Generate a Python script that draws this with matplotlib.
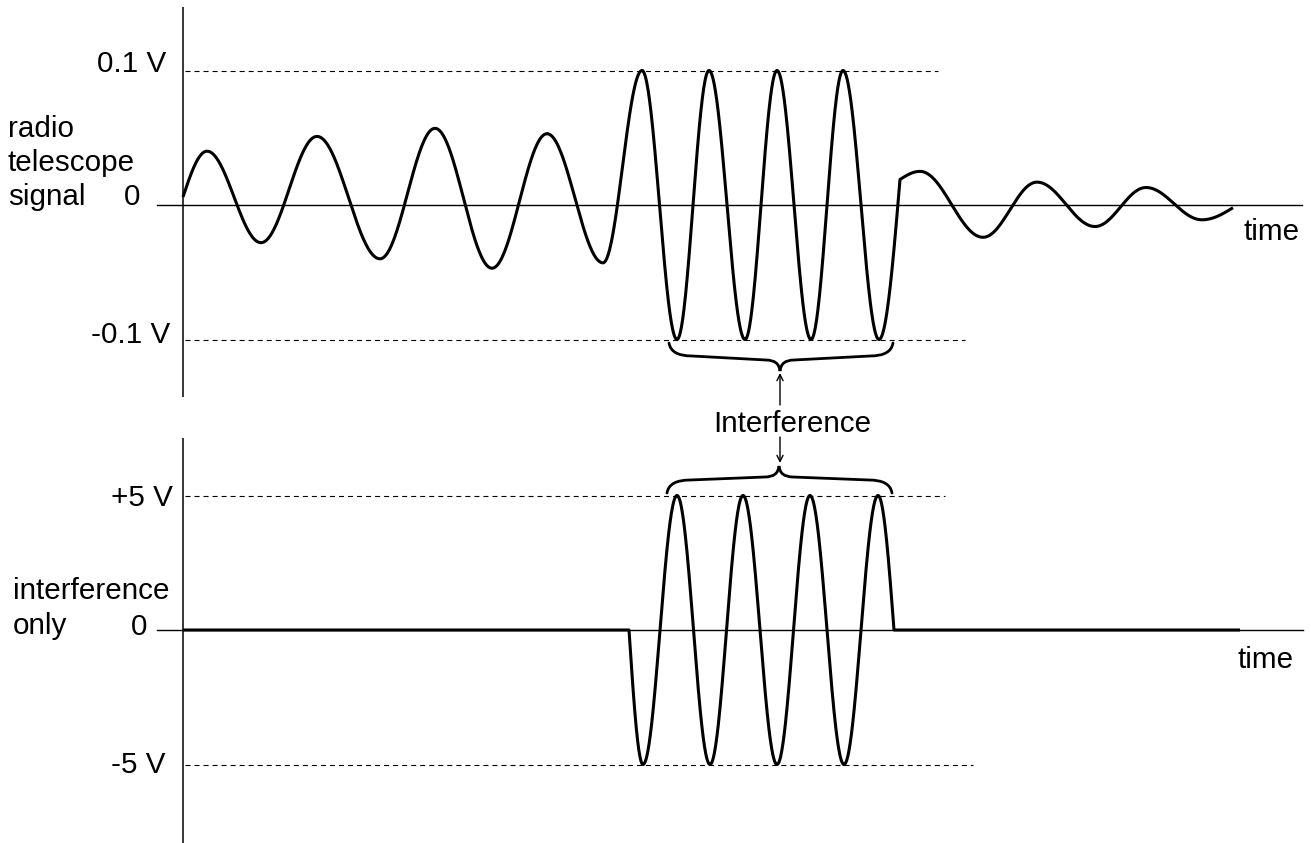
import numpy as np
import matplotlib
matplotlib.use("Agg")
import matplotlib.pyplot as plt
from matplotlib.path import Path
from matplotlib.patches import PathPatch

plt.rcParams["font.family"] = ["Liberation Sans", "DejaVu Sans"]
plt.rcParams["lines.scale_dashes"] = False

# radio telescope signal, turning points (time a.u., volts)
sig_t = [0.00, 0.24, 0.78, 1.34, 1.97, 2.52, 3.09, 3.64, 4.20,
         4.59, 4.94, 5.26, 5.62, 5.94, 6.28, 6.60, 6.96,
         7.17, 7.37, 8.00, 8.54, 9.12, 9.63, 10.19, 10.50]
sig_v = [0.006, 0.040, -0.028, 0.051, -0.040, 0.057, -0.047, 0.053, -0.043,
         0.100, -0.100, 0.100, -0.100, 0.100, -0.100, 0.100, -0.100,
         0.019, 0.025, -0.024, 0.017, -0.016, 0.013, -0.011, -0.002]
sig_mid = [0, 17, 24]      # points that are not peaks or troughs

# interference only
itf_t = [0.00, 4.46, 4.60, 4.94, 5.27, 5.60, 5.94, 6.27, 6.61, 6.95, 7.11, 10.57]
itf_v = [0, 0, -5, 5, -5, 5, -5, 5, -5, 5, 0, 0]
itf_mid = [0, 1, 10, 11]

top_levels = [0.1, -0.1]
top_labels = ["0.1 V", "-0.1 V"]
bot_levels = [5, -5]
bot_labels = ["+5 V", "-5 V"]

W, H = 1311, 843
LW_SIG = 2.2
FS = 21.3


def smooth_wave(t, v, mid, n=80):
    """Join the turning points with half / quarter cosine pieces."""
    xs, ys = [], []
    for i in range(len(t) - 1):
        s = np.linspace(0, 1, n)
        if i in mid and i + 1 in mid:
            f = s
        elif i in mid:
            f = np.sin(np.pi / 2 * s)
        elif i + 1 in mid:
            f = 1 - np.cos(np.pi / 2 * s)
        else:
            f = 0.5 - 0.5 * np.cos(np.pi * s)
        xs.append(t[i] + (t[i + 1] - t[i]) * s)
        ys.append(v[i] + (v[i + 1] - v[i]) * f)
    return np.concatenate(xs), np.concatenate(ys)


def brace(ax, t0, t1, tm, y_end, y_out, y_in, y_tip, de=0.23, dt=0.14):
    verts = [(t0, y_end), (t0 + 0.02, y_out), (t0 + de, y_out),
             (tm - dt, y_in),
             (tm - 0.01, y_in), (tm, y_tip),
             (tm + 0.01, y_in), (tm + dt, y_in),
             (t1 - de, y_out),
             (t1 - 0.02, y_out), (t1, y_end)]
    codes = [Path.MOVETO, Path.CURVE3, Path.CURVE3,
             Path.LINETO,
             Path.CURVE3, Path.CURVE3,
             Path.CURVE3, Path.CURVE3,
             Path.LINETO,
             Path.CURVE3, Path.CURVE3]
    ax.add_patch(PathPatch(Path(verts, codes), fill=False, lw=2.0,
                           edgecolor="black", capstyle="round",
                           joinstyle="miter", clip_on=False))


def ftext(x, y, s, **kw):
    # place text by pixel position of the reference
    fig.text(x / W, 1 - y / H, s, fontsize=FS, color="black", **kw)


fig = plt.figure(figsize=(W / 100, H / 100), dpi=100)

# top panel: 420 px tall, zero at y=205, 0.1 V = 134.5 px
ax1 = fig.add_axes([0, 1 - 420 / H, 1, 420 / H])
ax1.set_xlim(-1.83, 11.28)
ax1.set_ylim((205 - 420) / 1345, 205 / 1345)
ax1.axis("off")

# bottom panel: zero at y=630, 5 V = 134.5 px
ax2 = fig.add_axes([0, 0, 1, 423 / H])
ax2.set_xlim(-1.83, 11.28)
ax2.set_ylim((630 - 843) / 26.9, (630 - 420) / 26.9)
ax2.axis("off")

# axes lines
ax1.plot([0, 0], [-0.143, 0.147], color="black", lw=1.1, solid_capstyle="butt")
ax1.plot([-0.26, 11.19], [0, 0], color="black", lw=1.0)
ax2.plot([0, 0], [-7.95, 7.14], color="black", lw=1.1, solid_capstyle="butt")
ax2.plot([-0.26, 11.20], [0, 0], color="black", lw=1.0)

# dashed reference levels
dash = (0, (3.6, 2.9))
ax1.plot([0.02, 7.55], [top_levels[0]] * 2, color="black", lw=0.8, ls=dash)
ax1.plot([0.02, 7.82], [top_levels[1]] * 2, color="black", lw=0.8, ls=dash)
ax2.plot([0.02, 7.62], [bot_levels[0]] * 2, color="black", lw=0.8, ls=dash)
ax2.plot([0.02, 7.90], [bot_levels[1]] * 2, color="black", lw=0.8, ls=dash)

# signals
x1, y1 = smooth_wave(sig_t, sig_v, sig_mid)
ax1.plot(x1, y1, color="black", lw=LW_SIG, solid_joinstyle="round",
         solid_capstyle="butt")
x2, y2 = smooth_wave(itf_t, itf_v, itf_mid)
ax2.plot(x2, y2, color="black", lw=LW_SIG, solid_joinstyle="round",
         solid_capstyle="butt")

# braces and arrows
brace(ax1, 4.86, 7.10, 5.97, (205 - 343) / 1345, (205 - 356) / 1345,
      (205 - 360) / 1345, (205 - 371) / 1345)
brace(ax2, 4.84, 7.09, 5.96, (630 - 493) / 26.9, (630 - 480) / 26.9,
      (630 - 477) / 26.9, (630 - 466) / 26.9)
ax1.annotate("", xy=(5.97, (205 - 373) / 1345), xytext=(5.97, (205 - 405) / 1345),
             arrowprops=dict(arrowstyle="->", lw=1.0, color="black",
                             shrinkA=0, shrinkB=0, mutation_scale=11),
             annotation_clip=False)
ax2.annotate("", xy=(5.97, (630 - 463) / 26.9), xytext=(5.97, (630 - 437) / 26.9),
             arrowprops=dict(arrowstyle="->", lw=1.0, color="black",
                             shrinkA=0, shrinkB=0, mutation_scale=11),
             annotation_clip=False)

# texts
ftext(166, 72, top_labels[0], ha="right", va="baseline")
ftext(170, 343, top_labels[1], ha="right", va="baseline")
ftext(140, 205, "0", ha="right", va="baseline")
ftext(8, 137, "radio", ha="left", va="baseline")
ftext(8, 171, "telescope", ha="left", va="baseline")
ftext(8, 205, "signal", ha="left", va="baseline")
ftext(1300, 240, "time", ha="right", va="baseline")

ftext(173, 506, bot_labels[0], ha="right", va="baseline")
ftext(165, 773, bot_labels[1], ha="right", va="baseline")
ftext(147, 635, "0", ha="right", va="baseline")
ftext(13, 599, "interference", ha="left", va="baseline")
ftext(13, 634, "only", ha="left", va="baseline")
ftext(1294, 668, "time", ha="right", va="baseline")

ftext(792, 432, "Interference", ha="center", va="baseline")

fig.savefig("out.png", dpi=100)
